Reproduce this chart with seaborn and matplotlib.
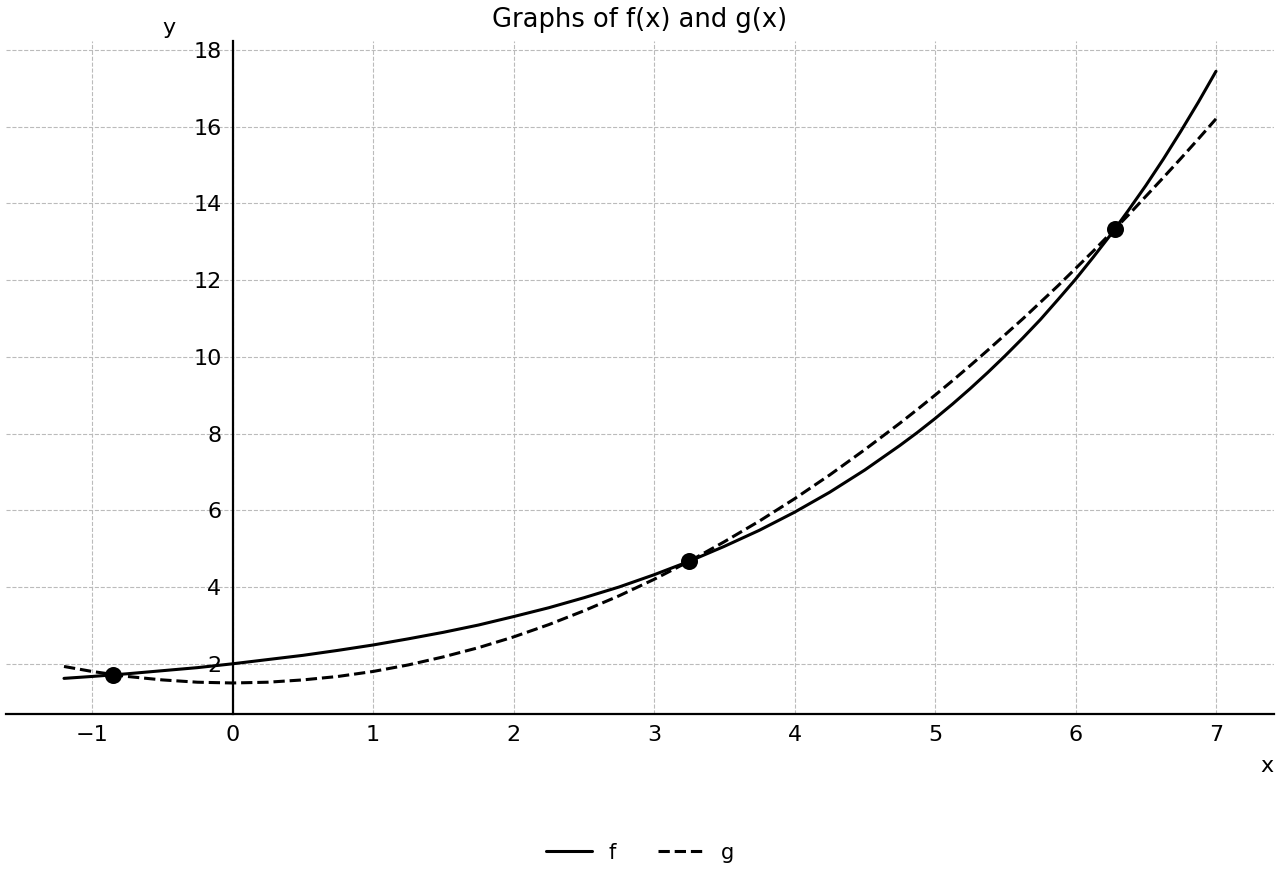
import pandas as pd
import seaborn as sns
import matplotlib.pyplot as plt

x_vals = [-1.2, -1.0, -0.75, -0.5, -0.25, 0.0, 0.25, 0.5, 0.75, 1.0, 1.25, 1.5,
          1.75, 2.0, 2.25, 2.5, 2.75, 3.0, 3.25, 3.5, 3.75, 4.0, 4.25, 4.5,
          4.75, 4.875, 5.0, 5.125, 5.25, 5.375, 5.5, 5.625, 5.75, 5.875, 6.0,
          6.125, 6.25, 6.375, 6.5, 6.625, 6.75, 6.875, 7.0]

f_vals = [1.62, 1.67, 1.74, 1.82, 1.90, 2.00, 2.11, 2.22, 2.35, 2.49, 2.65, 2.82,
          3.01, 3.23, 3.46, 3.72, 4.00, 4.32, 4.67, 5.06, 5.48, 5.95, 6.47, 7.05,
          7.69, 8.03, 8.39, 8.77, 9.17, 9.59, 10.03, 10.49, 10.97, 11.49, 12.02,
          12.59, 13.18, 13.81, 14.46, 15.15, 15.88, 16.64, 17.44]

g_vals = [1.93, 1.80, 1.67, 1.58, 1.52, 1.50, 1.52, 1.58, 1.67, 1.80, 1.97, 2.18,
          2.42, 2.70, 3.02, 3.38, 3.77, 4.20, 4.67, 5.18, 5.72, 6.30, 6.92, 7.58,
          8.27, 8.63, 9.00, 9.38, 9.77, 10.17, 10.58, 10.99, 11.42, 11.85, 12.30,
          12.75, 13.22, 13.69, 14.18, 14.67, 15.17, 15.68, 16.20]

# intersection points
cross_x = [-0.85, 3.25, 6.28]
cross_y = [1.72, 4.67, 13.33]

x_ticks = [-1, 0, 1, 2, 3, 4, 5, 6, 7]
y_ticks = [2, 4, 6, 8, 10, 12, 14, 16, 18]

sns.set_style("white")
plt.rcParams['font.family'] = ['DejaVu Sans']
plt.rcParams['text.color'] = 'black'
plt.rcParams['xtick.color'] = 'black'
plt.rcParams['ytick.color'] = 'black'

df = pd.DataFrame({
    'x': x_vals * 2,
    'y': f_vals + g_vals,
    'curve': ['f'] * len(x_vals) + ['g'] * len(x_vals),
})

fig = plt.figure(figsize=(12.8, 8.8), dpi=100)
ax = fig.add_axes([0.005, 0.189, 0.99, 0.764])

sns.lineplot(data=df, x='x', y='y', style='curve', color='black', linewidth=2.2,
             dashes={'f': '', 'g': (3.7, 1.6)}, sort=False, ax=ax)
sns.scatterplot(x=cross_x, y=cross_y, color='black', s=150, linewidth=0,
                zorder=5, ax=ax)

ax.set_xlim(-1.61, 7.41)
ax.set_ylim(0.7, 18.22)
ax.set_xticks(x_ticks)
ax.set_yticks(y_ticks)
ax.tick_params(direction='in', length=6, width=1.5, labelsize=16, pad=8)

ax.spines['left'].set_position(('data', 0))
ax.spines['top'].set_visible(False)
ax.spines['right'].set_visible(False)
for s in ['left', 'bottom']:
    ax.spines[s].set_linewidth(1.6)
    ax.spines[s].set_color('black')

ax.grid(True, linestyle='--', color='#bbbbbb', linewidth=0.8)
ax.set_axisbelow(True)

ax.set_xlabel('')
ax.set_ylabel('')
fig.text(0.990, 0.129, 'x', fontsize=16, ha='center', va='center')
fig.text(0.132, 0.968, 'y', fontsize=16, ha='center', va='center')
ax.set_title('Graphs of f(x) and g(x)', fontsize=18.5, pad=10)

handles, labels = ax.get_legend_handles_labels()
ax.legend_.remove()
fig.legend(handles, labels, loc='center', bbox_to_anchor=(0.5, 0.031), ncol=2,
           frameon=False, fontsize=15, handlelength=2.2, columnspacing=2.0)

fig.savefig('out.png', dpi=100)
